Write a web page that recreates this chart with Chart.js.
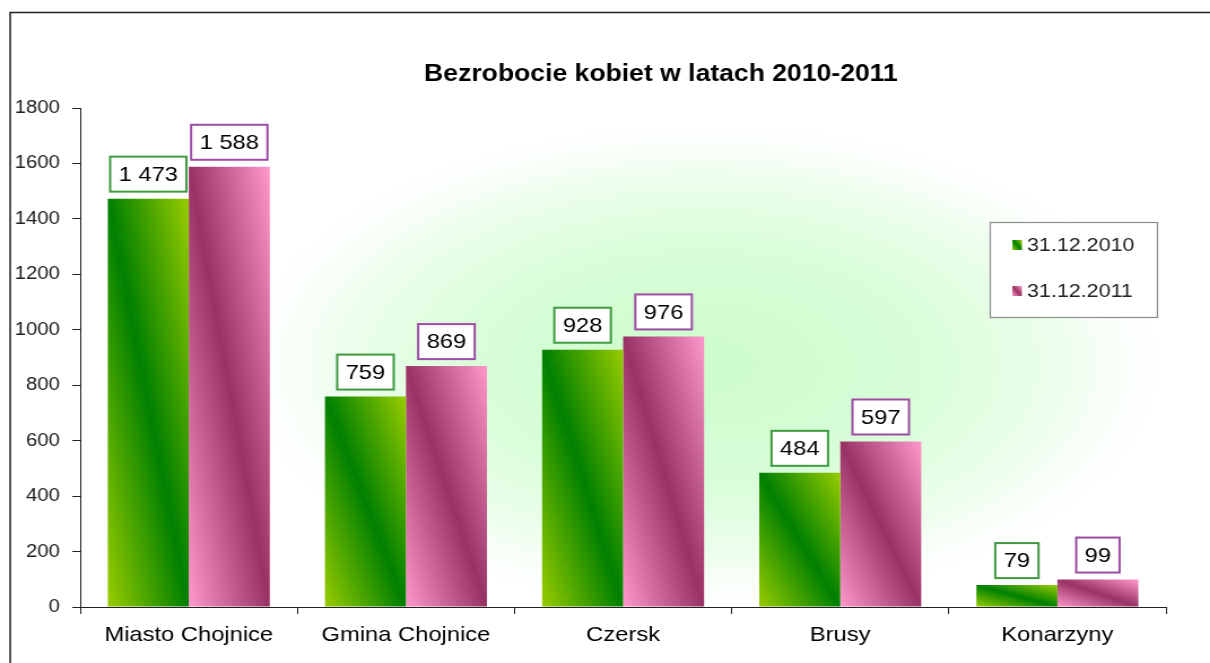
<!DOCTYPE html>
<html>
<head>
<meta charset="utf-8">
<title>Bezrobocie kobiet w latach 2010-2011</title>
<script src="https://cdn.jsdelivr.net/npm/chart.js@4.4.1/dist/chart.umd.min.js"></script>
<style>
    html, body { margin: 0; background: #fff; overflow: hidden; }
    /* the original screenshot is stretched horizontally, so we do the same */
    #wrap { width: 1071px; height: 663px; transform: scaleX(1.1298); transform-origin: 0 0; }
</style>
</head>
<body>
<div id="wrap"><canvas id="chart" width="1071" height="663"></canvas></div>
<script>
// data
const categories = ['Miasto Chojnice', 'Gmina Chojnice', 'Czersk', 'Brusy', 'Konarzyny'];
const seriesLabels = ['31.12.2010', '31.12.2011'];
const values2010 = [1473, 759, 928, 484, 79];
const values2011 = [1588, 869, 976, 597, 99];
const yMin = 0, yMax = 1800, yStep = 200;

const FONT = 'Arial, "Liberation Sans", sans-serif';
const CAT_PCT = 0.746;

// light / dark colours of each series and the colour of its label frame
const palette = [
    { light: '#99cc00', dark: '#008000', frame: '#3f9a3f' },
    { light: '#ff99cc', dark: '#993366', frame: '#9c4ca4' }
];

// diagonal gradient: dark band from top-left to bottom-right corner
function diagGradient(ctx, L, T, R, B, col) {
    const w = R - L, h = B - T;
    const len = Math.hypot(w, h) || 1;
    const nx = h / len, ny = -w / len, k = w * h / len;
    const cx = (L + R) / 2, cy = (T + B) / 2;
    const g = ctx.createLinearGradient(cx - k * nx, cy - k * ny, cx + k * nx, cy + k * ny);
    g.addColorStop(0, col.light);
    g.addColorStop(0.5, col.dark);
    g.addColorStop(1, col.light);
    return g;
}

function barFill(context) {
    const col = palette[context.datasetIndex];
    if (context.type !== 'data') return col.dark;
    const chart = context.chart;
    const xs = chart.scales.x, ys = chart.scales.y;
    if (!xs || !ys) return col.dark;
    const center = xs.getPixelForValue(context.dataIndex);
    const catSize = (xs.width / categories.length) * CAT_PCT;
    const barW = catSize / 2;
    const L = center - catSize / 2 + context.datasetIndex * barW;
    const T = ys.getPixelForValue(context.raw);
    const B = ys.getPixelForValue(0);
    if (![L, T, B, barW].every(Number.isFinite) || barW <= 0 || B - T <= 0) return col.dark;
    return diagGradient(chart.ctx, L, T, L + barW, B, col);
}

function formatNum(v) {
    return String(v).replace(/\B(?=(\d{3})+(?!\d))/g, ' ');
}

const backgroundPlugin = {
    id: 'background',
    beforeDraw(chart) {
        const ctx = chart.ctx;
        ctx.save();
        ctx.fillStyle = '#ffffff';
        ctx.fillRect(0, 0, chart.width, chart.height);
        // soft green glow behind the plot
        const cx = 622, cy = 365, rx = 430, ry = 255;
        ctx.translate(cx, cy);
        ctx.scale(rx / ry, 1);
        const g = ctx.createRadialGradient(0, 0, 0, 0, 0, ry);
        g.addColorStop(0, '#cdfccd');
        g.addColorStop(0.45, '#d8fed8');
        g.addColorStop(0.75, '#eefeee');
        g.addColorStop(1, 'rgba(255,255,255,0)');
        ctx.fillStyle = g;
        ctx.fillRect(-ry * 2, -ry * 2, ry * 4, ry * 4);
        ctx.restore();

        // outer frame (only left and top edges are visible)
        ctx.save();
        ctx.strokeStyle = '#222';
        ctx.lineWidth = 1.5;
        ctx.strokeRect(9, 12.5, 2000, 2000);
        ctx.restore();
    },
    afterDraw(chart) {
        const ctx = chart.ctx;
        // title
        ctx.save();
        ctx.font = 'bold 23.5px ' + FONT;
        ctx.fillStyle = '#000';
        ctx.textAlign = 'center';
        ctx.textBaseline = 'alphabetic';
        ctx.fillText('Bezrobocie kobiet w latach 2010-2011', 585, 81);
        ctx.restore();

        // legend
        ctx.save();
        const bx = 876, by = 222, bw = 148, bh = 95;
        ctx.fillStyle = '#fff';
        ctx.fillRect(bx, by, bw, bh);
        ctx.strokeStyle = '#8c8c8c';
        ctx.lineWidth = 1.2;
        ctx.strokeRect(bx + 0.5, by + 0.5, bw, bh);
        ctx.font = '19px ' + FONT;
        ctx.textBaseline = 'middle';
        ctx.textAlign = 'left';
        seriesLabels.forEach(function(lbl, i) {
            const yc = 245 + i * 46;
            ctx.fillStyle = diagGradient(ctx, 896, yc - 5, 904.5, yc + 5, palette[i]);
            ctx.fillRect(896, yc - 5, 8.5, 10);
            ctx.fillStyle = '#222';
            ctx.fillText(lbl, 909, yc + 1);
        });
        ctx.restore();
    }
};

const valueLabelPlugin = {
    id: 'valueLabels',
    afterDatasetsDraw(chart) {
        const ctx = chart.ctx;
        ctx.save();
        ctx.font = '21px ' + FONT;
        ctx.textAlign = 'center';
        ctx.textBaseline = 'middle';
        chart.data.datasets.forEach(function(ds, di) {
            const meta = chart.getDatasetMeta(di);
            meta.data.forEach(function(bar, i) {
                const txt = formatNum(ds.data[i]);
                const w = ctx.measureText(txt).width + 15;
                const h = 35;
                const bottom = bar.y - 7;
                const left = bar.x - w / 2;
                ctx.fillStyle = '#fff';
                ctx.fillRect(left, bottom - h, w, h);
                ctx.strokeStyle = palette[di].frame;
                ctx.lineWidth = 2;
                ctx.strokeRect(left, bottom - h, w, h);
                ctx.fillStyle = '#000';
                ctx.fillText(txt, bar.x, bottom - h / 2 + 1);
            });
        });
        ctx.restore();
    }
};

const chart = new Chart(document.getElementById('chart'), {
    type: 'bar',
    data: {
        labels: categories,
        datasets: [
            { label: seriesLabels[0], data: values2010, backgroundColor: barFill, borderWidth: 0, categoryPercentage: CAT_PCT, barPercentage: 1 },
            { label: seriesLabels[1], data: values2011, backgroundColor: barFill, borderWidth: 0, categoryPercentage: CAT_PCT, barPercentage: 1 }
        ]
    },
    options: {
        responsive: false,
        animation: false,
        layout: { padding: { left: 0, right: 39, top: 108, bottom: 0 } },
        plugins: {
            legend: { display: false },
            title: { display: false },
            tooltip: { enabled: false }
        },
        scales: {
            x: {
                afterFit: function(scale) { scale.height = 56; },
                grid: {
                    offset: true,
                    drawOnChartArea: false,
                    drawTicks: true,
                    tickLength: 7,
                    color: '#222'
                },
                border: { display: true, color: '#222', width: 1 },
                ticks: {
                    color: '#000',
                    padding: 9,
                    maxRotation: 0,
                    font: { family: FONT, size: 21 }
                }
            },
            y: {
                min: yMin,
                max: yMax,
                afterFit: function(scale) { scale.width = 71; },
                grid: {
                    drawOnChartArea: false,
                    drawTicks: true,
                    tickLength: 7,
                    color: '#222'
                },
                border: { display: true, color: '#222', width: 1 },
                ticks: {
                    stepSize: yStep,
                    color: '#222',
                    padding: 11,
                    font: { family: FONT, size: 18 },
                    callback: function(v) { return String(v); }
                }
            }
        }
    },
    plugins: [backgroundPlugin, valueLabelPlugin]
});
// second pass so the gradients are resolved with the final scale layout
chart.update('none');
</script>
</body>
</html>
